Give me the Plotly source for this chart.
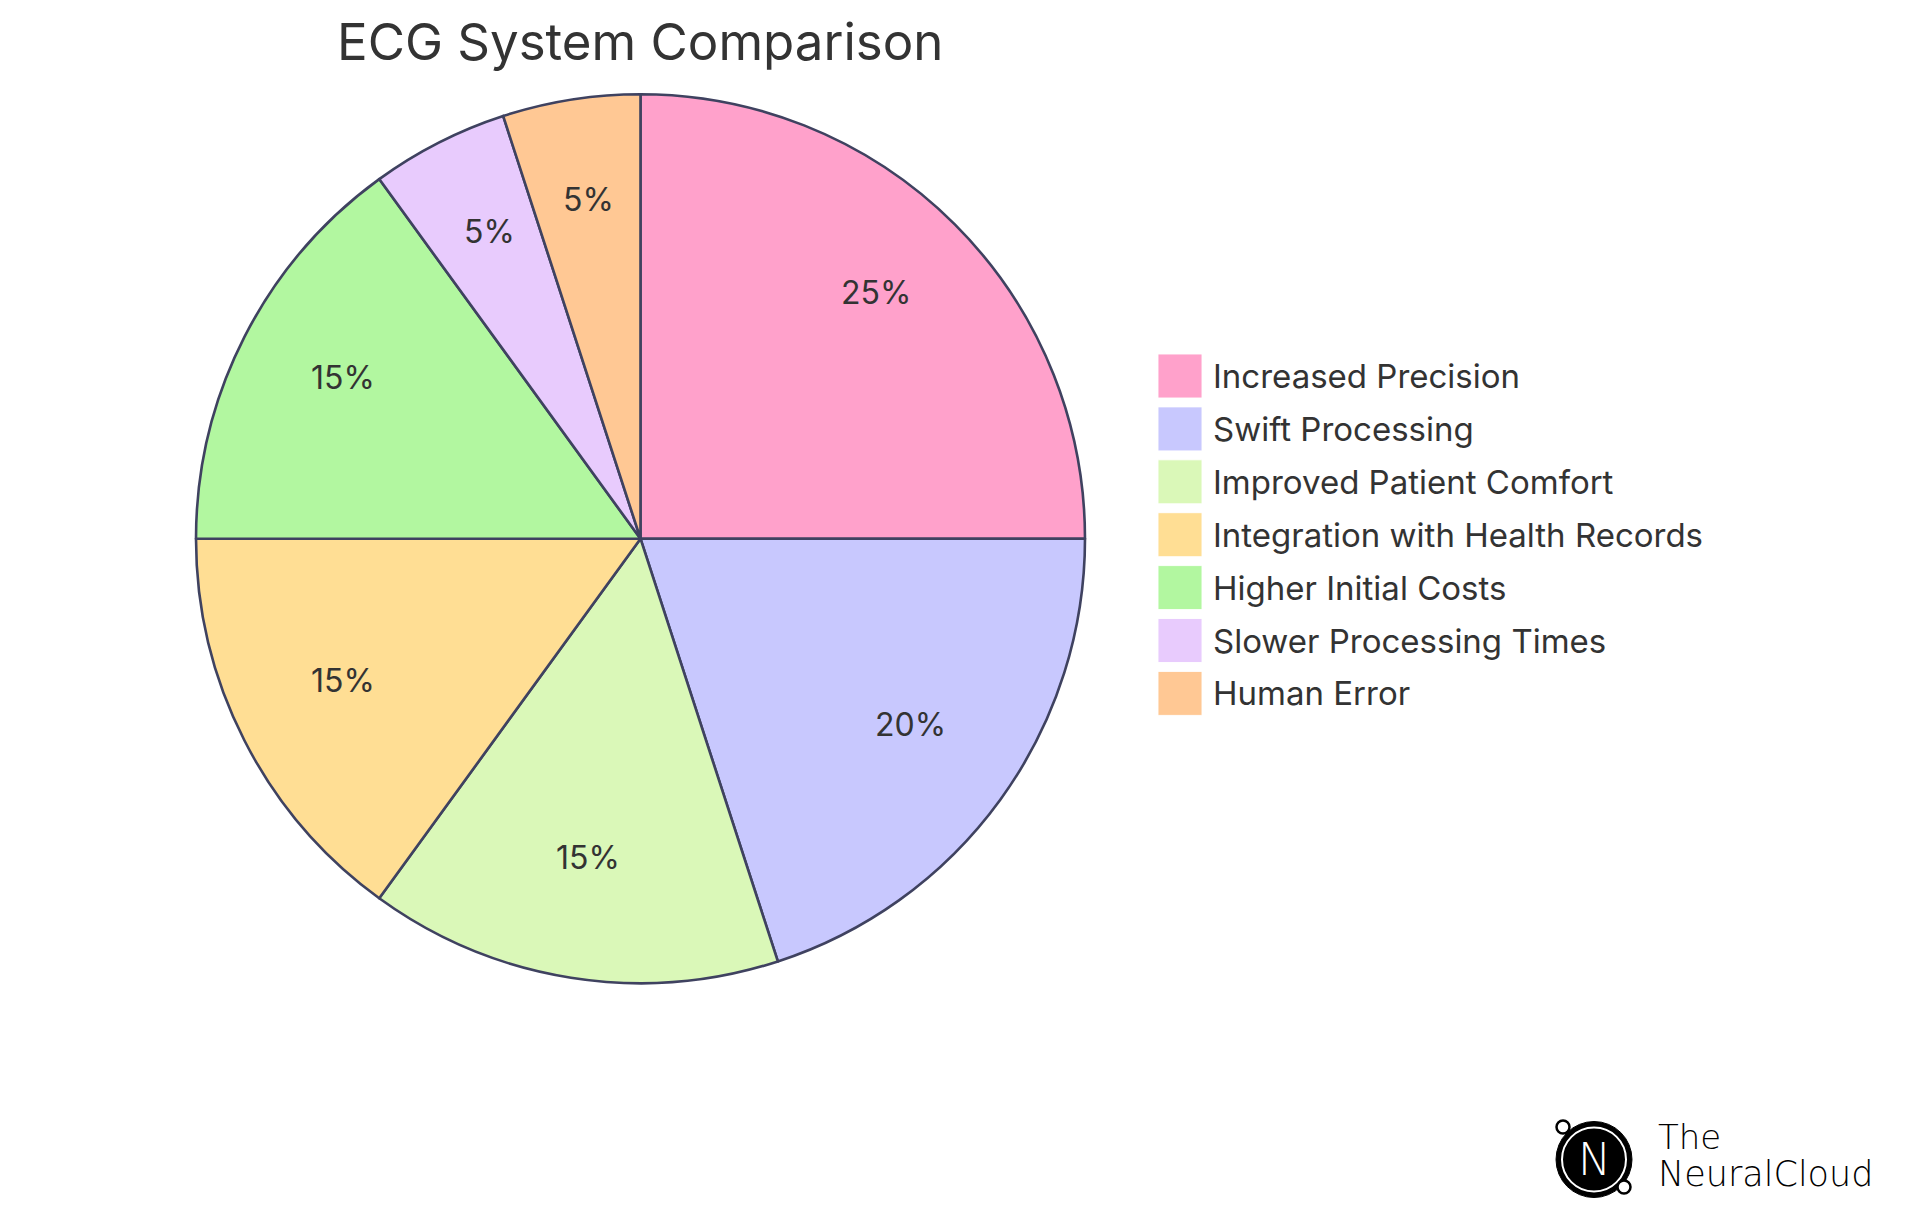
import math
import plotly.graph_objects as go

W, H = 1920, 1215

labels = ["Increased Precision", "Swift Processing", "Improved Patient Comfort",
          "Integration with Health Records", "Higher Initial Costs",
          "Slower Processing Times", "Human Error"]
values = [25, 20, 15, 15, 15, 5, 5]
colors = ["#FFA1CB", "#C8C8FE", "#DAF8B8", "#FFDE94", "#B2F7A0", "#E8CBFD", "#FFC894"]
title_text = "ECG System Comparison"

FONT = "Inter, Roboto, sans-serif"
TXT = "#333333"

def px(x):
    return x / W

def py(y):
    return 1 - y / H

# pie geometry (pixels)
cx, cy, R = 640.5, 538.7, 444.5

fig = go.Figure()
fig.add_trace(go.Pie(
    labels=labels, values=values, sort=False, direction="clockwise", rotation=0,
    marker=dict(colors=colors, line=dict(color="#3F4260", width=2.6)),
    textinfo="none", hoverinfo="label+percent", showlegend=False,
    domain=dict(x=[px(cx - R), px(cx + R)], y=[py(cy + R), py(cy - R)]),
))

annotations = []
shapes = []

# percentage labels placed at 0.75 R along each slice's mid-angle
total = sum(values)
cum = 0
for v in values:
    mid = (cum + v / 2) / total * 2 * math.pi
    cum += v
    r = 0.75 * R
    x = cx + r * math.sin(mid)
    y = cy - r * math.cos(mid) - 10
    annotations.append(dict(x=px(x), y=py(y), xref="paper", yref="paper",
                            text=f"{round(v / total * 100)}%", showarrow=False,
                            font=dict(family=FONT, size=32, color=TXT),
                            xanchor="center", yanchor="middle"))

# custom legend
lx0, lx1 = 1158, 1202
row0, step = 376, 52.9
for i, (lab, col) in enumerate(zip(labels, colors)):
    yc = row0 + i * step
    shapes.append(dict(type="rect", xref="paper", yref="paper",
                       x0=px(lx0), x1=px(lx1), y0=py(yc - 22), y1=py(yc + 22),
                       fillcolor=col, line=dict(color="rgba(255,255,255,0.9)", width=1)))
    annotations.append(dict(x=px(1211), y=py(yc), xref="paper", yref="paper",
                            text=lab, showarrow=False, xanchor="left", yanchor="middle",
                            font=dict(family=FONT, size=33, color=TXT)))

# title
annotations.append(dict(x=px(640), y=py(42), xref="paper", yref="paper",
                        text=title_text, showarrow=False, xanchor="center", yanchor="middle",
                        font=dict(family=FONT, size=51, color=TXT)))

# logo
LOGO_FONT = "DejaVu Sans, sans-serif"
lcx, lcy, lr = 1594, 1159.5, 38
shapes.append(dict(type="circle", xref="paper", yref="paper",
                   x0=px(lcx - lr), x1=px(lcx + lr), y0=py(lcy + lr), y1=py(lcy - lr),
                   fillcolor="black", line=dict(color="black", width=1)))
shapes.append(dict(type="circle", xref="paper", yref="paper",
                   x0=px(lcx - 32), x1=px(lcx + 32), y0=py(lcy + 32), y1=py(lcy - 32),
                   fillcolor="rgba(0,0,0,0)", line=dict(color="white", width=2)))
for (sx, sy) in [(1563, 1127), (1624, 1187)]:
    shapes.append(dict(type="circle", xref="paper", yref="paper",
                       x0=px(sx - 6.5), x1=px(sx + 6.5), y0=py(sy + 6.5), y1=py(sy - 6.5),
                       fillcolor="white", line=dict(color="black", width=2.5)))
annotations.append(dict(x=px(lcx), y=py(lcy), xref="paper", yref="paper", text="N",
                        showarrow=False, xanchor="center", yanchor="middle",
                        font=dict(family=LOGO_FONT, size=44, color="white", weight=200)))
annotations.append(dict(x=px(1656), y=py(1137), xref="paper", yref="paper", text="The",
                        showarrow=False, xanchor="left", yanchor="middle",
                        font=dict(family=LOGO_FONT, size=34, color="#000000", weight=200)))
annotations.append(dict(x=px(1656), y=py(1174), xref="paper", yref="paper", text="NeuralCloud",
                        showarrow=False, xanchor="left", yanchor="middle",
                        font=dict(family=LOGO_FONT, size=35, color="#000000", weight=200)))

fig.update_layout(
    width=W, height=H, margin=dict(l=0, r=0, t=0, b=0),
    paper_bgcolor="white", plot_bgcolor="white",
    annotations=annotations, shapes=shapes, showlegend=False,
)

fig.write_html("out.html")
